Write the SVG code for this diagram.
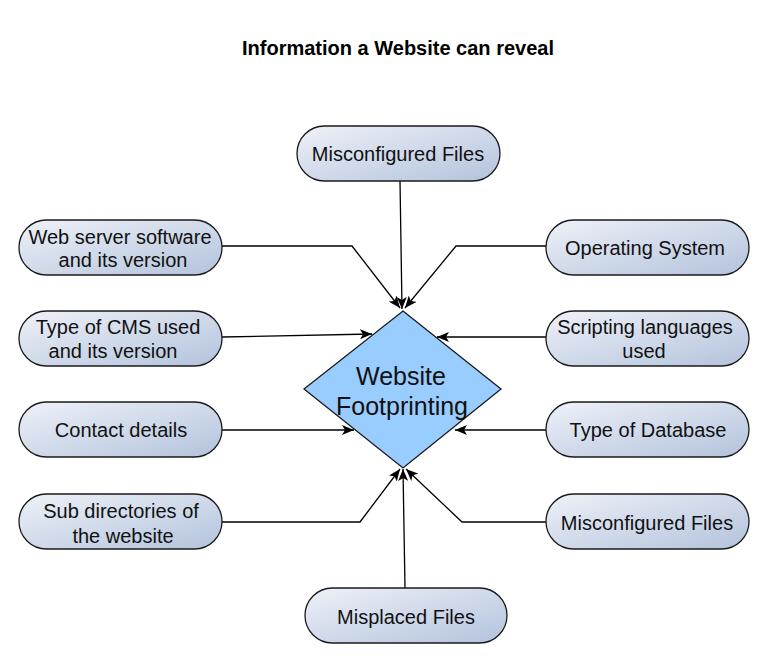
<svg xmlns="http://www.w3.org/2000/svg" width="768" height="663" viewBox="0 0 768 663">
<defs>
<linearGradient id="g" x1="0" y1="0" x2="1" y2="1">
<stop offset="0" stop-color="#eef1f8"/>
<stop offset="1" stop-color="#b3c3dc"/>
</linearGradient>
<marker id="a" viewBox="0 0 12 10" refX="12" refY="5" markerWidth="12" markerHeight="10" markerUnits="userSpaceOnUse" orient="auto">
<path d="M0,0 L12,5 L0,10 L3,5 Z" fill="#000"/>
</marker>
<style>
.n{fill:url(#g);stroke:#1a1a1a;stroke-width:1.3}
.t{font-family:"Liberation Sans",Arial,sans-serif;font-size:20px;fill:#111;text-anchor:middle}
.c{fill:none;stroke:#000;stroke-width:1.3;marker-end:url(#a)}
</style>
</defs>
<rect width="768" height="663" fill="#fff"/>
<text x="398" y="55" style="font-family:'Liberation Sans',Arial,sans-serif;font-size:20px;font-weight:bold;text-anchor:middle;fill:#000">Information a Website can reveal</text>
<g id="connectors">
<path class="c" d="M400,181 L402,309"/>
<path class="c" d="M222,246 L352,246 L400,308"/>
<path class="c" d="M546,246 L456,246 L405,308"/>
<path class="c" d="M222,337 L372,334"/>
<path class="c" d="M546,337 L437,337"/>
<path class="c" d="M222,430 L354,430"/>
<path class="c" d="M546,430 L455,430"/>
<path class="c" d="M222,522 L360,522 L400,469"/>
<path class="c" d="M546,522 L462,522 L406,469"/>
<path class="c" d="M405,588 L403,469"/>
</g>
<g id="center">
<path d="M403,311 L501,389 L403,468 L304,389 Z" fill="#99ccff" stroke="#1a1a1a" stroke-width="1.3"/>
<text x="401" y="385" class="t" style="font-size:25px">Website</text>
<text x="402" y="415" class="t" style="font-size:25px">Footprinting</text>
</g>
<g id="n-misconfigured-top"><rect class="n" x="297" y="126" width="203" height="55" rx="27.5"/><text class="t" x="398" y="161">Misconfigured Files</text></g>
<g id="n-webserver"><rect class="n" x="19" y="220" width="203" height="55" rx="27.5"/><text class="t" x="120" y="244">Web server software</text><text class="t" x="123" y="267">and its version</text></g>
<g id="n-os"><rect class="n" x="546" y="220" width="203" height="55" rx="27.5"/><text class="t" x="645" y="255">Operating System</text></g>
<g id="n-cms"><rect class="n" x="19" y="311" width="203" height="55" rx="27.5"/><text class="t" x="118" y="334">Type of CMS used</text><text class="t" x="113" y="358">and its version</text></g>
<g id="n-scripting"><rect class="n" x="546" y="311" width="203" height="55" rx="27.5"/><text class="t" x="645" y="334">Scripting languages</text><text class="t" x="644" y="358">used</text></g>
<g id="n-contact"><rect class="n" x="19" y="402" width="203" height="55" rx="27.5"/><text class="t" x="121" y="437">Contact details</text></g>
<g id="n-database"><rect class="n" x="546" y="402" width="203" height="55" rx="27.5"/><text class="t" x="648" y="437">Type of Database</text></g>
<g id="n-subdir"><rect class="n" x="19" y="494" width="203" height="55" rx="27.5"/><text class="t" x="121" y="518">Sub directories of</text><text class="t" x="123" y="543">the website</text></g>
<g id="n-misconfigured-right"><rect class="n" x="546" y="494" width="203" height="55" rx="27.5"/><text class="t" x="647" y="530">Misconfigured Files</text></g>
<g id="n-misplaced"><rect class="n" x="305" y="588" width="202" height="55" rx="27.5"/><text class="t" x="406" y="624">Misplaced Files</text></g>
</svg>
